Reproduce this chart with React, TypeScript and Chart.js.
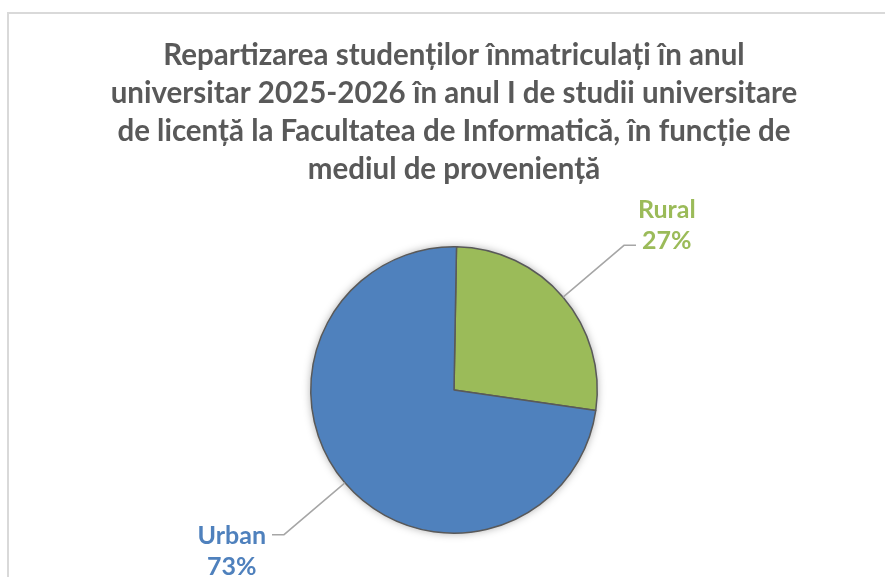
import React, { useEffect, useRef } from "react";
import { Chart, registerables } from "chart.js";

Chart.register(...registerables);

const titleLines = [
  "Repartizarea studenților înmatriculați în anul",
  "universitar 2025-2026 în anul I de studii universitare",
  "de licență la Facultatea de Informatică, în funcție de",
  "mediul de proveniență",
];
const categories = ["Rural", "Urban"];
const shares = [27, 73];
const sliceColors = ["#9BBB59", "#4F81BD"];
const labelColors = ["#9BBB59", "#4F81BD"];

const shadowPlugin = {
  id: "pieShadow",
  beforeDatasetsDraw(chart: any) {
    const meta = chart.getDatasetMeta(0);
    const arc = meta.data[0];
    if (!arc) return;
    const { x, y, outerRadius } = arc.getProps(["x", "y", "outerRadius"], true);
    const ctx = chart.ctx;
    ctx.save();
    ctx.shadowColor = "rgba(0,0,0,0.35)";
    ctx.shadowBlur = 9;
    ctx.beginPath();
    ctx.arc(x, y, outerRadius, 0, Math.PI * 2);
    ctx.fillStyle = "#ffffff";
    ctx.fill();
    ctx.restore();
  },
};

const labelPlugin = {
  id: "pieLabels",
  afterDatasetsDraw(chart: any) {
    const meta = chart.getDatasetMeta(0);
    const data = chart.data.datasets[0].data as number[];
    const total = data.reduce((a, b) => a + b, 0);
    const ctx = chart.ctx;
    meta.data.forEach((arc: any, i: number) => {
      const { x, y, startAngle, endAngle, outerRadius } = arc.getProps(
        ["x", "y", "startAngle", "endAngle", "outerRadius"],
        true
      );
      const mid = (startAngle + endAngle) / 2;
      const cos = Math.cos(mid);
      const sin = Math.sin(mid);
      const ex = x + cos * outerRadius;
      const ey = y + sin * outerRadius;
      const kx = x + cos * (outerRadius + 80);
      const ky = y + sin * (outerRadius + 80);
      const side = cos >= 0 ? 1 : -1;
      const sx = kx + side * 12;
      ctx.save();
      ctx.strokeStyle = "#A6A6A6";
      ctx.lineWidth = 1.5;
      ctx.beginPath();
      ctx.moveTo(ex, ey);
      ctx.lineTo(kx, ky);
      ctx.lineTo(sx, ky);
      ctx.stroke();

      const lines = [categories[i], Math.round((data[i] / total) * 100) + "%"];
      ctx.font = "bold 25px Lato";
      ctx.fillStyle = labelColors[i];
      ctx.textAlign = "center";
      ctx.textBaseline = "middle";
      const attach = sin < 0 ? lines.length - 1 : 0;
      const wA = ctx.measureText(lines[attach]).width;
      const cx = sx + side * (6 + wA / 2);
      const attachY = ky + (sin < 0 ? -4 : 1);
      lines.forEach((t, j) => {
        ctx.fillText(t, cx, attachY + (j - attach) * 31);
      });
      ctx.restore();
    });
  },
};

export default function App() {
  const ref = useRef<HTMLCanvasElement | null>(null);
  useEffect(() => {
    if (!ref.current) return;
    const chart = new Chart(ref.current, {
      type: "pie",
      data: {
        labels: categories,
        datasets: [
          {
            data: shares,
            backgroundColor: sliceColors,
            borderColor: "#595959",
            borderWidth: 1.5,
          },
        ],
      },
      options: {
        responsive: false,
        animation: false,
        rotation: 1,
        layout: { padding: { top: 0, left: 100, right: 77, bottom: 43 } },
        plugins: {
          legend: { display: false },
          tooltip: { enabled: false },
          title: {
            display: true,
            text: titleLines,
            color: "#595959",
            font: { family: "Lato", size: 29.5, weight: "bold", lineHeight: 38 / 29.5 },
            padding: { top: 36, bottom: 58 },
          },
        },
      },
      plugins: [shadowPlugin, labelPlugin],
    });
    return () => chart.destroy();
  }, []);
  return (
    <div
      style={{
        position: "absolute",
        left: 0,
        top: 0,
        width: 885,
        height: 577,
        overflow: "hidden",
        background: "#ffffff",
      }}
    >
      <div
        style={{
          position: "absolute",
          left: 7,
          top: 12,
          width: 1000,
          height: 1000,
          borderTop: "2px solid #D9D9D9",
          borderLeft: "2px solid #D9D9D9",
        }}
      />
      <canvas
        ref={ref}
        width={885}
        height={577}
        style={{ position: "absolute", left: 0, top: 0, width: 885, height: 577 }}
      />
    </div>
  );
}
